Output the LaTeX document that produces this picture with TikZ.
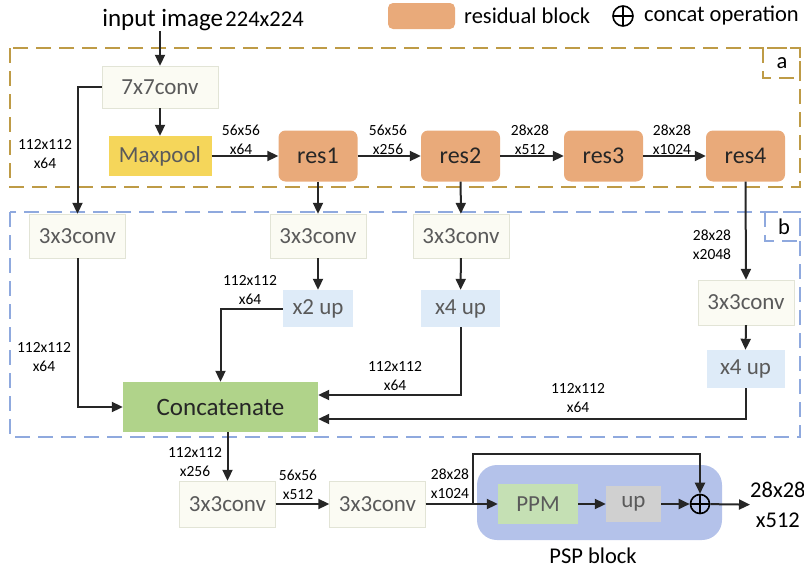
\documentclass[tikz,border=0pt]{standalone}
\usepackage{fontspec}
\setmainfont{Carlito}
\usetikzlibrary{arrows.meta, positioning, calc}
\definecolor{convfill}{RGB}{251,251,243}
\definecolor{convline}{RGB}{226,228,214}
\definecolor{upfill}{RGB}{222,235,248}
\definecolor{poolfill}{RGB}{245,214,90}
\definecolor{resfill}{RGB}{233,170,122}
\definecolor{catfill}{RGB}{176,211,138}
\definecolor{ppmfill}{RGB}{197,224,180}
\definecolor{grayfill}{RGB}{208,208,208}
\definecolor{pspfill}{RGB}{180,194,234}
\definecolor{dasha}{RGB}{190,155,70}
\definecolor{dashb}{RGB}{143,169,222}
\definecolor{txtgray}{RGB}{90,90,90}
\definecolor{txtdark}{RGB}{38,38,38}
\tikzset{
  conv/.style={rectangle, draw=convline, fill=convfill, text=txtgray, inner sep=0pt,
    minimum width=96pt, minimum height=44pt, font=\fontsize{23}{25}\selectfont},
  upbox/.style={rectangle, fill=upfill, text=txtgray, inner sep=0pt,
    minimum height=37pt, font=\fontsize{23}{25}\selectfont},
  res/.style={rectangle, rounded corners=7pt, fill=resfill, text=txtdark, inner sep=0pt,
    minimum width=79pt, minimum height=51pt, font=\fontsize{24}{26}\selectfont},
  lbl/.style={font=\fontsize{15.5}{19}\selectfont, align=center, inner sep=0pt},
  big/.style={font=\fontsize{22.5}{30}\selectfont, align=center, inner sep=0pt},
  oplus/.style={circle, draw, line width=1.6pt, minimum size=19pt, inner sep=0pt,
    path picture={\draw[line width=1.6pt] (path picture bounding box.north) -- (path picture bounding box.south)
      (path picture bounding box.west) -- (path picture bounding box.east);}},
  arrow/.style={-{Triangle[length=11pt,width=10pt]}, line width=2pt, txtdark},
  frame/.style={dash pattern=on 15pt off 8pt, line width=1.8pt}
}
\begin{document}
\begin{tikzpicture}[x=1pt, y=-1pt]
  \useasboundingbox (0,0) rectangle (804,573);
  % legend
  \node[inner sep=0pt] (input) at (203,20) {{\fontsize{25}{27}\selectfont input image} {\fontsize{22.5}{27}\selectfont 224x224}};
  \node[rectangle, rounded corners=5pt, fill=resfill, minimum width=67pt, minimum height=26pt] (legres) at (421.5,16) {};
  \node[big, anchor=west] (legrestxt) at (464,16) {residual block};
  \node[oplus, minimum size=20pt] (legplus) at (623,16) {};
  \node[big, anchor=west] (legplustxt) at (644,16) {concat operation};
  % dashed frames
  \draw[frame, dasha] (10,48) rectangle (800,187);
  \draw[frame, dasha] (763,48) rectangle (800,78);
  \node[big] (tagA) at (782,63) {a};
  \draw[frame, dashb] (10,212) rectangle (800,437);
  \draw[frame, dashb] (765,212) rectangle (800,241);
  \node[big] (tagB) at (784,227) {b};
  % encoder
  \node[conv, minimum width=116pt, minimum height=42pt] (conv7) at (160,87) {7x7conv};
  \node[rectangle, fill=poolfill, text=txtgray, minimum width=103pt, minimum height=40pt,
    font=\fontsize{23}{25}\selectfont] (pool) at (160,156) {Maxpool};
  \node[res] (res1) at (318,156) {res1};
  \node[res] (res2) at (460.5,156) {res2};
  \node[res] (res3) at (603.5,156) {res3};
  \node[res] (res4) at (745.5,156) {res4};
  \draw[arrow] (input.south -| conv7.north) -- (conv7.north);
  \draw[arrow] (conv7) -- (pool);
  \draw[arrow] (pool) -- (res1);
  \draw[arrow] (res1) -- (res2);
  \draw[arrow] (res2) -- (res3);
  \draw[arrow] (res3) -- (res4);
  \node[lbl] (l1) at (241,140) {56x56\\x64};
  \node[lbl] (l2) at (388,140) {56x56\\x256};
  \node[lbl] (l3) at (530,140) {28x28\\x512};
  \node[lbl] (l4) at (672,140) {28x28\\x1024};
  % decoder
  \node[conv] (convA) at (77.5,236) {3x3conv};
  \node[conv] (convB) at (318,236) {3x3conv};
  \node[conv] (convC) at (461,236) {3x3conv};
  \node[upbox, minimum width=70pt] (upB) at (318,308.5) {x2 up};
  \node[upbox, minimum width=79pt] (upC) at (460.5,308.5) {x4 up};
  \node[conv, minimum height=45pt] (convD) at (746,302.5) {3x3conv};
  \node[upbox, minimum width=78pt, minimum height=38pt] (upD) at (745.5,369) {x4 up};
  \node[rectangle, fill=catfill, text=txtdark, minimum width=195pt, minimum height=50pt,
    font=\fontsize{25}{27}\selectfont] (concat) at (220.5,407) {Concatenate};
  \draw[arrow] (conv7.west) -| (convA.north);
  \draw[arrow] (res1) -- (convB);
  \draw[arrow] (res2) -- (convC);
  \draw[arrow] (res4.south) -- (convD.north);
  \draw[arrow] (convB) -- (upB);
  \draw[arrow] (convC) -- (upC);
  \draw[arrow] (convD.south) -- (upD.north);
  \draw[arrow] (upB.west) -| (concat.north);
  \draw[arrow] (convA.south) |- (concat.west);
  \draw[arrow] (upC.south) |- ([yshift=12pt]concat.east);
  \draw[arrow] (upD.south) |- ([yshift=-12pt]concat.east);
  \node[lbl] (l5) at (45,154) {112x112\\x64};
  \node[lbl] (l6) at (44,357) {112x112\\x64};
  \node[lbl] (l7) at (250,290) {112x112\\x64};
  \node[lbl] (l8) at (395,376) {112x112\\x64};
  \node[lbl] (l9) at (578,398) {112x112\\x64};
  \node[lbl] (l10) at (712,245) {28x28\\x2048};
  % head
  \node[conv, minimum height=46pt] (convE) at (227.5,504) {3x3conv};
  \node[conv, minimum height=46pt] (convF) at (377.5,504) {3x3conv};
  \node[rectangle, rounded corners=20pt, fill=pspfill, minimum width=245pt, minimum height=75pt] (psp) at (599.5,502.5) {};
  \node[big] (psptxt) at (593,556) {PSP block};
  \node[rectangle, fill=ppmfill, text=txtgray, minimum width=80pt, minimum height=40pt,
    font=\fontsize{23}{25}\selectfont] (ppm) at (538,504) {PPM};
  \node[rectangle, fill=grayfill, text=txtgray, minimum width=55pt, minimum height=36pt,
    font=\fontsize{23}{25}\selectfont] (upP) at (633.5,504) {up};
  \node[oplus] (plus) at (700,504) {};
  \node[big, anchor=west] (out) at (750,505) {28x28\\x512};
  \coordinate (split) at (473,504);
  \draw[arrow] (concat.south -| convE.north) -- (convE.north);
  \draw[arrow] (convE) -- (convF);
  \draw[arrow] (convF) -- (ppm);
  \draw[arrow] (split) -- ++(0,-50) -| (plus.north);
  \draw[arrow] (ppm) -- (upP);
  \draw[arrow] (upP) -- (plus);
  \draw[arrow] (plus) -- (out);
  \node[lbl] (l11) at (195,462) {112x112\\x256};
  \node[lbl] (l12) at (298,485) {56x56\\x512};
  \node[lbl] (l13) at (450,484) {28x28\\x1024};
\end{tikzpicture}
\end{document}
